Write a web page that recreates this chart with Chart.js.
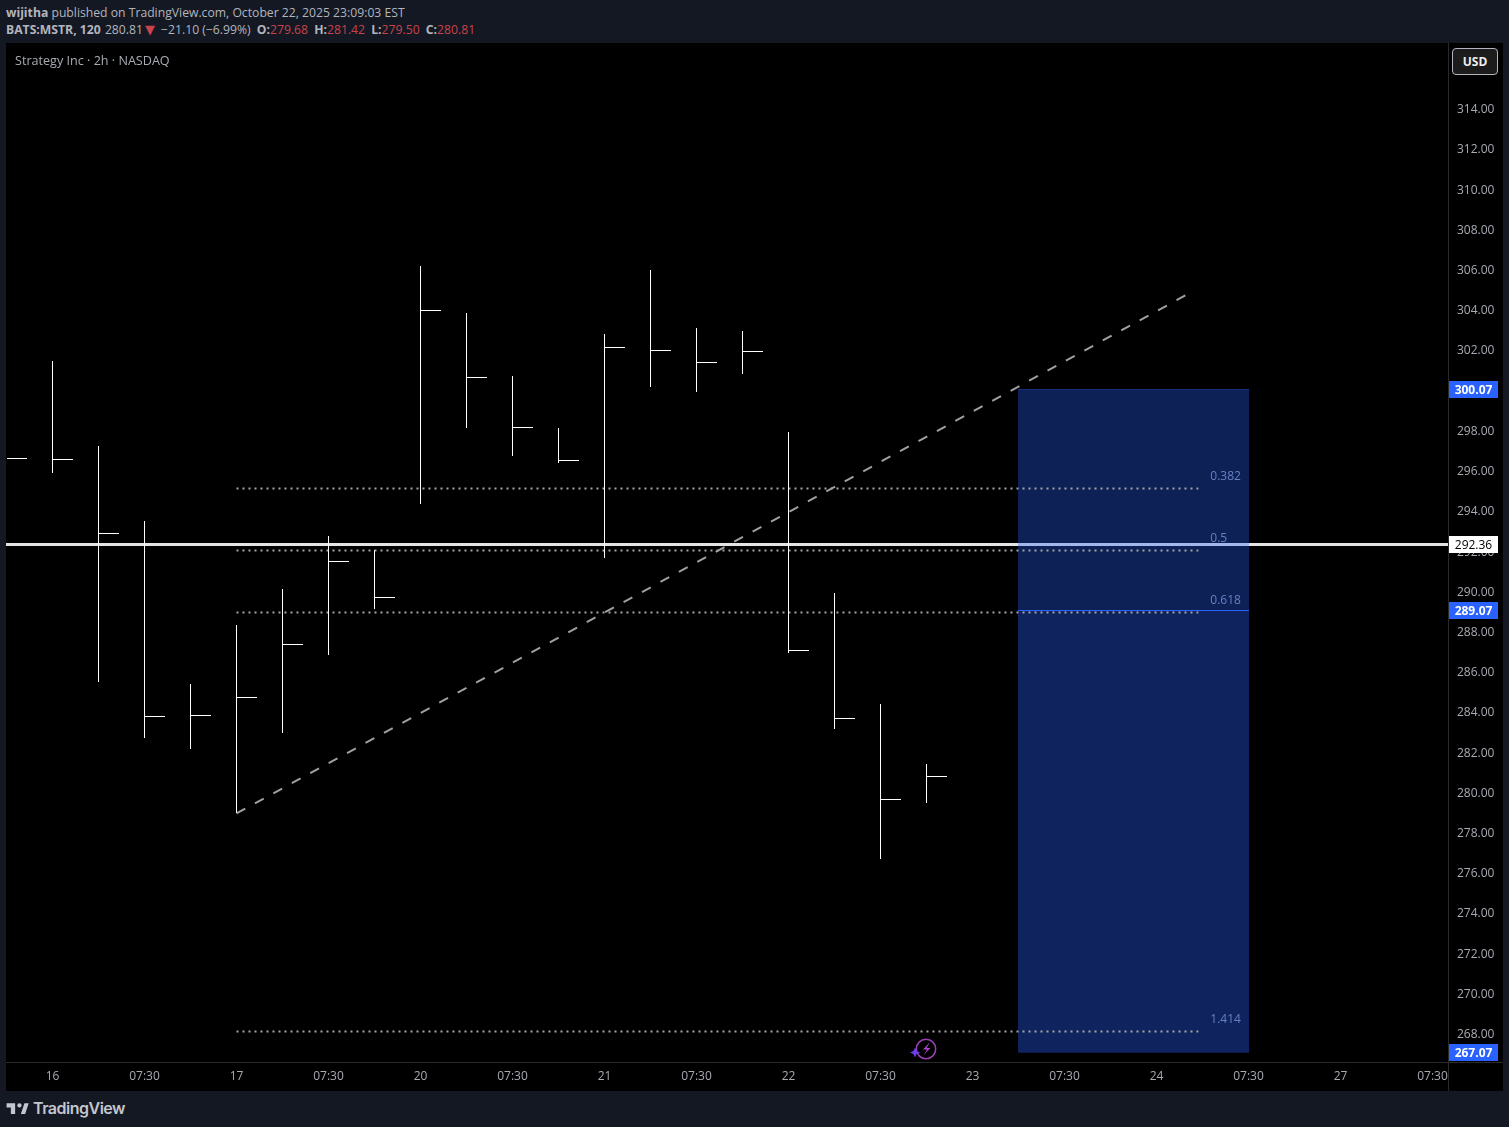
<!DOCTYPE html>
<html>
<head>
<meta charset="utf-8">
<title>MSTR 2h</title>
<script src="https://cdn.jsdelivr.net/npm/chart.js@4/dist/chart.umd.min.js"></script>
<style>
  html, body { margin: 0; padding: 0; width: 1509px; height: 1127px; overflow: hidden; background: #141823; font-family: "Open Sans", sans-serif; }
  .hdr { position: absolute; left: 6px; font-size: 12.2px; line-height: 16px; color: #b2b5be; white-space: pre; }
  .hdr b { font-weight: 700; }
  .red { color: #c8434c; }
  .gap { margin-left: 3px; }
  .tri { font-family: "DejaVu Sans", sans-serif; font-size: 13px; line-height: 14px; margin: 0 6px 0 -1px; }
  #panel { position: absolute; left: 6px; top: 43px; width: 1497px; height: 1048px; background: #000; }
  #legend { position: absolute; left: 15px; top: 53px; font-size: 12.6px; line-height: 16px; color: #a8abb3; }
  #usd { position: absolute; left: 1452px; top: 48px; width: 44px; height: 25px; border: 1px solid #b2b5be; border-radius: 4px; background: #1c1c1c; color: #eee; font-size: 12px; font-weight: 700; line-height: 26px; text-align: center; box-sizing: content-box; }
  #brand { position: absolute; left: 33px; top: 1097px; font-family: Inter, sans-serif; font-size: 16px; font-weight: 600; line-height: 22px; letter-spacing: -0.5px; color: #c3c6ce; }
  svg { position: absolute; }
</style>
</head>
<body>
<div class="hdr" style="top:5px"><b>wijitha</b> published on TradingView.com, October 22, 2025 23:09:03 EST</div>
<div class="hdr" style="top:22px"><b>BATS:MSTR, 120</b> <span style="margin-left:1px">280.81</span> <span class="red tri">▼</span>−21.10 (−6.99%)<b class="gap"> O:</b><span class="red">279.68</span><b class="gap"> H:</b><span class="red">281.42</span><b class="gap"> L:</b><span class="red">279.50</span><b class="gap"> C:</b><span class="red">280.81</span></div>
<div id="panel"><canvas id="chart" width="1497" height="1048"></canvas></div>
<div id="legend">Strategy Inc · 2h · NASDAQ</div>
<div id="usd">USD</div>
<svg style="left:908px;top:1036px" width="32" height="26" viewBox="0 0 32 26">
  <circle cx="18" cy="13" r="9.7" fill="none" stroke="#9c3fb8" stroke-width="1.5"/>
  <path d="M21 7l-6 6.5h4l-3.5 5.5 7-7h-4l3-5z" fill="#a845c8"/>
  <path d="M7 11.5l1.6 3.4 3.4 1.6-3.4 1.6-1.6 3.4-1.6-3.4-3.4-1.6 3.4-1.6z" fill="#6a3df0"/>
</svg>
<svg style="left:5px;top:1099px" width="26" height="20" viewBox="0 0 36 28">
  <path d="M14 6H2v6h6v9h6V6zm14 15h-6l5-15h6l-5 15z" fill="#c3c6ce"/>
  <circle cx="20" cy="9" r="3" fill="#c3c6ce"/>
</svg>
<div id="brand">TradingView</div>

<script>
// 2h bars, x is the bar number (0 = the "16" tick)
const barIndex = [-1, 0, 1, 2, 3, 4, 5, 6, 7, 8, 9, 10, 11, 12, 13, 14, 15, 16, 17, 18, 19];
const highs = [null, 301.49, 297.22, 293.49, 285.43, 288.36, 290.15, 292.79, 292.09, 306.17, 303.88, 300.70, 298.16, 302.79, 305.97, 303.13, 302.98, 297.96, 289.91, 284.39, 281.42];
const lows = [null, 295.92, 285.53, 282.74, 282.15, 278.97, 282.99, 286.87, 289.16, 294.38, 298.16, 296.72, 296.42, 291.65, 300.20, 299.95, 300.80, 286.97, 283.19, 276.68, 279.50];
const closes = [296.62, 296.57, 292.89, 283.79, 283.84, 284.73, 287.37, 291.50, 289.71, 303.98, 300.65, 298.16, 296.52, 302.14, 301.99, 301.39, 301.94, 287.07, 283.69, 279.66, 280.81];

const xTickValues = [0, 2, 4, 6, 8, 10, 12, 14, 16, 18, 20, 22, 24, 26, 28, 30];
const xTickLabels = ['16', '07:30', '17', '07:30', '20', '07:30', '21', '07:30', '22', '07:30', '23', '07:30', '24', '07:30', '27', '07:30'];
const yTickValues = [268, 270, 272, 274, 276, 278, 280, 282, 284, 286, 288, 290, 292, 294, 296, 298, 300, 302, 304, 306, 308, 310, 312, 314];

// drawings on the chart
const lastLine = 292.36;
const boxTop = 300.07, boxMid = 289.07, boxBottom = 267.07;
const boxStart = 20.99, boxEnd = 26.02;
const fibLevels = [295.13, 292.04, 288.96, 268.12];
const fibLabels = ['0.382', '0.5', '0.618', '1.414'];
const fibStart = 4, fibEnd = 24.91, fibLabelAt = 25.17;
const trendX = [4, 24.78];
const trendY = [278.97, 304.92];
const priceTags = [300.07, 292.36, 289.07, 267.07];

const xMin = -1.0109, xMax = 30.337;
const yMin = 266.609, yMax = 317.282;
const tickLen = 0.45;
const font12 = '12px "Open Sans", sans-serif';

const wickPoints = [];
const closePoints = [];
barIndex.forEach((x, i) => {
  if (highs[i] !== null) wickPoints.push({x, y: highs[i]}, {x, y: lows[i]}, {x, y: null});
  closePoints.push({x, y: closes[i]}, {x: x + tickLen, y: closes[i]}, {x: x + tickLen, y: null});
});

const fibPoints = [];
fibLevels.forEach(v => {
  fibPoints.push({x: fibStart, y: v}, {x: fibEnd, y: v}, {x: fibEnd, y: null});
});

// keep the 1px strokes on whole pixels like the original
const snapLines = {
  id: 'snapLines',
  beforeDatasetsDraw(chart) {
    chart.data.datasets.forEach((ds, i) => {
      if (!ds.snap) return;
      chart.getDatasetMeta(i).data.forEach(pt => {
        if (ds.snap === 'v') { pt.x = Math.floor(pt.x) + 0.5; pt.y = Math.round(pt.y); }
        else { pt.y = Math.floor(pt.y) + 0.5; pt.x = Math.round(pt.x); }
      });
    });
  }
};

const overlays = {
  id: 'overlays',
  afterDraw(chart) {
    const ctx = chart.ctx, x = chart.scales.x, y = chart.scales.y, area = chart.chartArea;
    ctx.save();
    // axis separators
    ctx.strokeStyle = '#2a2a2a';
    ctx.lineWidth = 1;
    ctx.beginPath();
    ctx.moveTo(area.right + 0.5, 0); ctx.lineTo(area.right + 0.5, chart.height);
    ctx.moveTo(0, area.bottom + 0.5); ctx.lineTo(chart.width, area.bottom + 0.5);
    ctx.stroke();
    ctx.font = font12;
    ctx.textBaseline = 'middle';
    // fib labels
    ctx.textAlign = 'left';
    ctx.fillStyle = '#6780c2';
    fibLabels.forEach((t, i) => ctx.fillText(t, x.getPixelForValue(fibLabelAt), y.getPixelForValue(fibLevels[i]) - 12));
    // price tags
    ctx.textAlign = 'center';
    priceTags.forEach(v => {
      const py = Math.floor(y.getPixelForValue(v));
      const isLast = v === lastLine;
      ctx.fillStyle = isLast ? '#ffffff' : '#2962ff';
      ctx.fillRect(area.right + 1, py - 8, 49, 17);
      ctx.fillStyle = isLast ? '#000000' : '#ffffff';
      ctx.font = isLast ? font12 : 'bold ' + font12;
      ctx.fillText(v.toFixed(2), area.right + 25.5, py + 1.5);
    });
    ctx.restore();
  }
};

// no extra room for half tick labels, the plot fills the whole panel
function noLabelPadding(scale) {
  scale.paddingTop = scale.paddingBottom = scale.paddingLeft = scale.paddingRight = 0;
}

const plain = {pointRadius: 0, pointHoverRadius: 0, fill: false, tension: 0};

new Chart(document.getElementById('chart'), {
  type: 'line',
  data: {
    datasets: [
      {...plain, data: [{x: xMin, y: lastLine}, {x: xMax, y: lastLine}], borderColor: '#e4e4e4', borderWidth: 3, snap: 'h', order: 50},
      {...plain, data: [{x: boxStart, y: boxTop}, {x: boxEnd, y: boxTop}], borderColor: 'rgba(41,98,255,0.4)', borderWidth: 1, snap: 'h',
        fill: {target: {value: boxMid}, above: 'rgba(41,98,255,0.34)', below: 'rgba(41,98,255,0.34)'}, order: 40},
      {...plain, data: [{x: boxStart, y: boxMid}, {x: boxEnd, y: boxMid}], borderColor: '#2962ff', borderWidth: 1, snap: 'h',
        fill: {target: {value: boxBottom}, above: 'rgba(41,98,255,0.37)', below: 'rgba(41,98,255,0.37)'}, order: 39},
      {...plain, data: fibPoints, borderColor: '#a6a6a6', borderWidth: 2, borderDash: [2, 4], order: 30},
      {...plain, data: trendX.map((x, i) => ({x, y: trendY[i]})), borderColor: '#a0a0a4', borderWidth: 2, borderDash: [10, 11], order: 20},
      {...plain, data: wickPoints, borderColor: '#ffffff', borderWidth: 1, snap: 'v', order: 10},
      {...plain, data: closePoints, borderColor: '#ffffff', borderWidth: 1, snap: 'h', order: 9}
    ]
  },
  options: {
    responsive: false,
    animation: false,
    events: [],
    layout: {padding: 0},
    plugins: {legend: {display: false}, tooltip: {enabled: false}},
    scales: {
      x: {
        type: 'linear',
        bounds: 'data',
        min: xMin,
        max: xMax,
        grid: {display: false, drawTicks: false},
        border: {display: false},
        afterBuildTicks: scale => { scale.ticks = xTickValues.map(value => ({value})); },
        afterFit: scale => { scale.height = 29; noLabelPadding(scale); },
        ticks: {
          autoSkip: false, maxRotation: 0, padding: 7, color: '#a8abb3', font: {family: '"Open Sans", sans-serif', size: 12},
          callback: value => xTickLabels[xTickValues.indexOf(value)]
        }
      },
      y: {
        position: 'right',
        bounds: 'data',
        min: yMin,
        max: yMax,
        grid: {display: false, drawTicks: false},
        border: {display: false},
        afterBuildTicks: scale => { scale.ticks = yTickValues.map(value => ({value})); },
        afterFit: scale => { scale.width = 55; noLabelPadding(scale); },
        ticks: {
          padding: 9, labelOffset: 0.7, color: '#a8abb3', font: {family: '"Open Sans", sans-serif', size: 12},
          callback: value => value.toFixed(2)
        }
      }
    }
  },
  plugins: [snapLines, overlays]
});
</script>
</body>
</html>
